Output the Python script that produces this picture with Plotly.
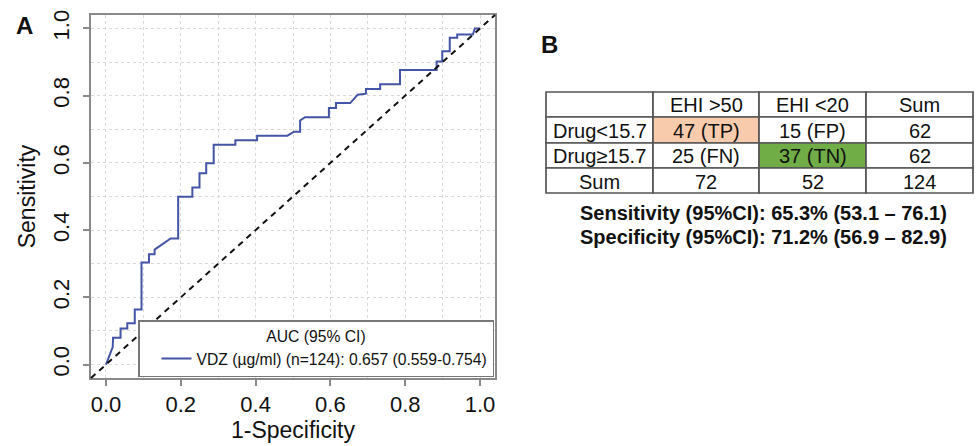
import plotly.graph_objects as go

# ---- Panel A: ROC curve (step vertices) ----
fpr = [0.000, 0.018, 0.019, 0.039, 0.039, 0.057, 0.057, 0.077, 0.077, 0.095,
       0.095, 0.115, 0.115, 0.130, 0.130, 0.173, 0.193, 0.193, 0.231, 0.231,
       0.250, 0.250, 0.268, 0.268, 0.288, 0.288, 0.346, 0.346, 0.404, 0.404,
       0.485, 0.503, 0.519, 0.519, 0.532, 0.596, 0.596, 0.615, 0.615, 0.653,
       0.673, 0.695, 0.695, 0.733, 0.733, 0.786, 0.786, 0.875, 0.884, 0.884,
       0.899, 0.899, 0.919, 0.919, 0.939, 0.939, 0.981, 0.986, 1.000]
tpr = [0.000, 0.052, 0.080, 0.080, 0.107, 0.107, 0.123, 0.123, 0.164, 0.164,
       0.304, 0.304, 0.328, 0.328, 0.342, 0.375, 0.375, 0.499, 0.499, 0.527,
       0.527, 0.569, 0.569, 0.599, 0.599, 0.654, 0.654, 0.667, 0.667, 0.681,
       0.681, 0.693, 0.693, 0.726, 0.736, 0.736, 0.763, 0.763, 0.778, 0.778,
       0.803, 0.806, 0.820, 0.820, 0.834, 0.834, 0.876, 0.876, 0.876, 0.902,
       0.902, 0.932, 0.932, 0.972, 0.972, 0.982, 0.982, 1.000, 1.000]
curve_name = "VDZ (µg/ml) (n=124): 0.657 (0.559-0.754)"
legend_title = "AUC (95% CI)"
x_ticks = [0.0, 0.2, 0.4, 0.6, 0.8, 1.0]
y_ticks = [0.0, 0.2, 0.4, 0.6, 0.8, 1.0]

# ---- Panel B: confusion table ----
header_labels = ["", "EHI >50", "EHI <20", "Sum"]
row_labels = ["Drug<15.7", "Drug≥15.7", "Sum"]
col_ehi_hi = ["47 (TP)", "25 (FN)", "72"]
col_ehi_lo = ["15 (FP)", "37 (TN)", "52"]
col_sum = ["62", "62", "124"]
sens_text = "Sensitivity (95%CI): 65.3% (53.1 – 76.1)"
spec_text = "Specificity (95%CI): 71.2% (56.9 – 82.9)"

W, H = 976, 446
FONT = "Liberation Sans, Arial, Helvetica, sans-serif"
BLUE = "#4454a6"
FRAME = "#8a8a8a"
GRID = "#d9d9d9"
PEACH = "#f8cbad"
GREEN = "#70ad47"
WHITE = "#ffffff"
TBL_LINE = "#555555"

fig = go.Figure()

fig.add_trace(go.Scatter(
    x=fpr, y=tpr, mode="lines", name=curve_name,
    line=dict(color=BLUE, width=2), showlegend=True,
))

# diagonal reference across the whole frame
fig.add_shape(type="line", xref="x domain", yref="y domain",
              x0=0, y0=0, x1=1, y1=1,
              line=dict(color="#111111", width=2, dash="6px,5px"), layer="above")

# ---- table drawn as cells (paper coordinates from pixel layout) ----
col_edges = [546, 653, 759, 866, 973]
row_edges = [92, 117, 143, 168, 193]
columns = [[header_labels[0]] + row_labels,
           [header_labels[1]] + col_ehi_hi,
           [header_labels[2]] + col_ehi_lo,
           [header_labels[3]] + col_sum]
fills = [[WHITE] * 4,
         [WHITE, PEACH, WHITE, WHITE],
         [WHITE, WHITE, GREEN, WHITE],
         [WHITE] * 4]

annotations = []
for ci, col in enumerate(columns):
    x0, x1 = col_edges[ci], col_edges[ci + 1]
    for ri, txt in enumerate(col):
        y0, y1 = row_edges[ri], row_edges[ri + 1]
        fig.add_shape(type="rect", xref="paper", yref="paper",
                      x0=x0 / W, x1=x1 / W, y0=1 - y1 / H, y1=1 - y0 / H,
                      fillcolor=fills[ci][ri],
                      line=dict(color=TBL_LINE, width=1.7), layer="above")
        if txt:
            annotations.append(dict(
                text=txt, x=(x0 + x1) / 2 / W, y=1 - ((y0 + y1) / 2 + 1) / H,
                xref="paper", yref="paper", xanchor="center", yanchor="middle",
                showarrow=False, font=dict(family=FONT, size=20, color="#111111")))

annotations += [
    dict(text="<b>A</b>", x=24 / W, y=1 - 25 / H, xref="paper", yref="paper",
         xanchor="center", yanchor="middle",
         showarrow=False, font=dict(family=FONT, size=24, color="#111111")),
    dict(text="<b>B</b>", x=549 / W, y=1 - 45 / H, xref="paper", yref="paper",
         xanchor="center", yanchor="middle",
         showarrow=False, font=dict(family=FONT, size=24, color="#111111")),
    dict(text="<b>" + sens_text + "</b>", x=763 / W, y=1 - 213 / H,
         xref="paper", yref="paper", xanchor="center", yanchor="middle",
         showarrow=False, font=dict(family=FONT, size=20, color="#111111")),
    dict(text="<b>" + spec_text + "</b>", x=763 / W, y=1 - 237 / H,
         xref="paper", yref="paper", xanchor="center", yanchor="middle",
         showarrow=False, font=dict(family=FONT, size=20, color="#111111")),
]

axis_common = dict(
    range=[-0.04, 1.04], tickmode="array", tickformat=".1f",
    ticks="outside", ticklen=6, tickwidth=1.5, tickcolor=FRAME,
    showline=True, mirror=True, linecolor=FRAME, linewidth=1.5,
    showgrid=True, gridcolor=GRID, gridwidth=1, griddash="dot",
    minor=dict(dtick=0.1, tick0=0, showgrid=True, gridcolor=GRID,
               griddash="dot", gridwidth=1, ticks=""),
    zeroline=False, automargin=False,
    tickfont=dict(family=FONT, size=22, color="#111111"),
)

fig.update_layout(
    width=W, height=H,
    margin=dict(l=0, r=0, t=0, b=0),
    paper_bgcolor="white", plot_bgcolor="white",
    font=dict(family=FONT, color="#111111"),
    xaxis=dict(axis_common, domain=[91 / W, 495 / W], tickvals=x_ticks,
               ticklabelstandoff=0,
               title=dict(text="1-Specificity", standoff=2,
                          font=dict(family=FONT, size=23))),
    yaxis=dict(axis_common, domain=[68 / H, 431 / H], tickvals=y_ticks,
               tickangle=-90, ticklabelstandoff=5,
               title=dict(text="Sensitivity", standoff=7,
                          font=dict(family=FONT, size=23))),
    legend=dict(
        x=494 / W, xanchor="right", y=(H - 377) / H, yanchor="bottom",
        bgcolor="white", bordercolor="#777777", borderwidth=1.5,
        font=dict(family=FONT, size=15.7, color="#111111"),
        title=dict(text=legend_title, side="top center",
                   font=dict(family=FONT, size=15.7, color="#111111")),
        itemwidth=30, indentation=17,
    ),
    annotations=annotations,
)

fig.write_html("out.html", config={"displayModeBar": False},
               post_script="document.body.style.margin='0';")
